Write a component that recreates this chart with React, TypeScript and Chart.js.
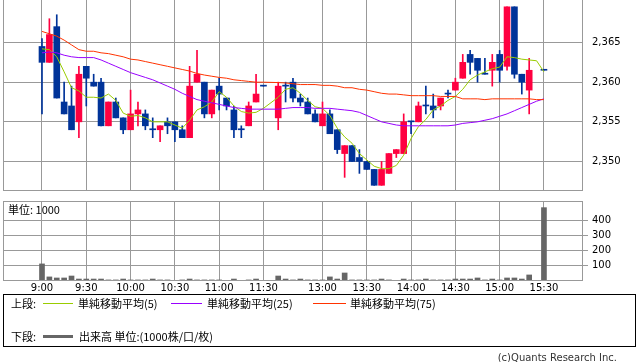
import React, { useEffect, useRef } from "react";
import { Chart, registerables } from "chart.js";

Chart.register(...registerables);

// ---- data ----
const candleTimes = [
  "9:00", "9:05", "9:10", "9:15", "9:20", "9:25", "9:30", "9:35", "9:40", "9:45", "9:50", "9:55",
  "10:00", "10:05", "10:10", "10:15", "10:20", "10:25", "10:30", "10:35", "10:40", "10:45", "10:50", "10:55",
  "11:00", "11:05", "11:10", "11:15", "11:20", "11:25", "11:30",
  "12:30", "12:35", "12:40", "12:45", "12:50", "12:55",
  "13:00", "13:05", "13:10", "13:15", "13:20", "13:25", "13:30", "13:35", "13:40", "13:45", "13:50", "13:55",
  "14:00", "14:05", "14:10", "14:15", "14:20", "14:25", "14:30", "14:35", "14:40", "14:45", "14:50", "14:55",
  "15:00", "15:05", "15:10", "15:15", "15:20",
  "15:30",
];

const opens = [
  2364.5, 2362.5, 2367, 2357.5, 2357, 2355, 2362, 2360, 2360, 2354.5, 2357.5, 2355.5,
  2354, 2356, 2356, 2354, 2354, 2355, 2355, 2354, 2353, 2360, 2360, 2356,
  2359.5, 2358, 2356.5, 2354, 2354.5, 2357.5, 2359.5,
  2355.5, 2359.5, 2360, 2358, 2357.5, 2356,
  2354.5, 2356, 2354, 2351, 2352, 2350.5, 2350, 2349, 2347, 2348.5, 2351, 2351,
  2355, 2355, 2357, 2357, 2357, 2358.5, 2359, 2360.5, 2363.5, 2363, 2361, 2361.5,
  2363.5, 2362, 2369.5, 2361, 2359,
  2361.5,
];
const highs = [
  2365.5, 2368, 2368.5, 2360, 2359.5, 2362, 2362, 2361, 2360.5, 2357.5, 2358, 2355.5,
  2359, 2357.5, 2356.5, 2355.5, 2354.5, 2355.5, 2355, 2354.5, 2362, 2364, 2360, 2359,
  2360.5, 2358, 2357, 2354.5, 2357.5, 2361, 2359.5,
  2360, 2360, 2360.5, 2358.5, 2358, 2356.5,
  2357.5, 2356.5, 2354, 2352, 2352, 2351.5, 2350, 2349, 2350, 2351, 2351.5, 2356,
  2355, 2357.5, 2359.5, 2358.5, 2358, 2359, 2360.5, 2363.5, 2364, 2363, 2363, 2363.5,
  2364, 2369.5, 2369.5, 2361, 2363,
  2361.5,
];
const lows = [
  2356, 2362.5, 2358, 2356, 2354, 2353, 2357, 2359.5, 2354.5, 2354.5, 2355.5, 2353.5,
  2354, 2354.5, 2354, 2353, 2352.5, 2353.5, 2352.5, 2353, 2353, 2360, 2355.5, 2355.5,
  2356.5, 2356.5, 2353, 2353, 2354.5, 2357.5, 2359.5,
  2354, 2357.5, 2357.5, 2357, 2356, 2355,
  2354.5, 2353.5, 2351, 2348, 2350, 2348.5, 2349, 2347, 2347, 2348.5, 2350.5, 2351,
  2353.5, 2355, 2356, 2355.5, 2356.5, 2358, 2359, 2360.5, 2361, 2360, 2361, 2359.5,
  2360, 2361.5, 2360.5, 2358.5, 2356,
  2361.5,
];
const closes = [
  2362.5, 2366, 2358, 2356, 2354, 2361, 2360.5, 2359.5, 2354.5, 2357.5, 2355.5, 2354,
  2356, 2356.5, 2354.5, 2354, 2354.5, 2354.5, 2354, 2353, 2359.5, 2361, 2356, 2359,
  2358.5, 2357, 2354, 2354, 2357, 2358.5, 2359.5,
  2359.5, 2359.5, 2358, 2357.5, 2356, 2355,
  2356, 2353.5, 2351.5, 2352, 2350, 2350, 2349, 2347, 2349, 2351, 2351.5, 2355,
  2355, 2357, 2357, 2356.5, 2358, 2358.5, 2360, 2362.5, 2362.5, 2361.5, 2361, 2362.5,
  2361.5, 2369.5, 2361, 2360, 2361.5,
  2361.5,
];
const volumes = [
  113, 27, 20, 20, 33, 13, 13, 13, 13, 7, 7, 13,
  7, 7, 7, 13, 7, 7, 3, 7, 13, 7, 7, 7,
  7, 3, 13, 2, 7, 13, 2,
  33, 13, 7, 13, 7, 7,
  7, 27, 13, 53, 7, 7, 7, 7, 13, 7, 2, 13,
  7, 7, 13, 7, 7, 7, 13, 13, 13, 20, 7, 13,
  7, 20, 20, 13, 40,
  485,
];

const maTimes = [
  "9:00", "9:05", "9:10", "9:15", "9:20", "9:25", "9:30", "9:35", "9:40", "9:45", "9:50", "9:55",
  "10:00", "10:05", "10:10", "10:15", "10:20", "10:25", "10:30", "10:35", "10:40", "10:45", "10:50", "10:55",
  "11:00", "11:05", "11:10", "11:15", "11:20", "11:25", "11:30",
  "12:30", "12:35", "12:40", "12:45", "12:50", "12:55",
  "13:00", "13:05", "13:10", "13:15", "13:20", "13:25", "13:30", "13:35", "13:40", "13:45", "13:50", "13:55",
  "14:00", "14:05", "14:10", "14:15", "14:20", "14:25", "14:30", "14:35", "14:40", "14:45", "14:50", "14:55",
  "15:00", "15:05", "15:10", "15:15", "15:20", "15:25", "15:30",
];
const ma5 = [
  2364.2, 2364.1, 2363.2, 2361.3, 2359.3, 2358.9, 2358.1, 2358.1, 2358.0, 2358.5, 2357.7, 2356.1,
  2355.7, 2355.8, 2355.5, 2355.0, 2355.0, 2355.0, 2354.6, 2354.2, 2355.2, 2356.5, 2356.9, 2357.5,
  2358.8, 2358.1, 2357.0, 2356.3, 2356.1, 2356.2, 2356.7,
  2358.1, 2359.1, 2359.3, 2358.6, 2357.7, 2356.9,
  2356.7, 2355.8, 2354.2, 2353.1, 2352.3, 2351.0, 2350.2, 2349.4, 2349.1, 2349.1, 2349.5, 2350.8,
  2352.9, 2354.4, 2355.3, 2356.5, 2357.0, 2357.7, 2358.2, 2359.1, 2360.3, 2360.9, 2361.3, 2361.7,
  2361.9, 2363.2, 2363.1, 2362.9, 2362.8, 2362.7, 2361.3,
];
const ma25 = [
  2363.7, 2363.8, 2363.7, 2363.4, 2363.2, 2363.1, 2363.1, 2363.1, 2362.8, 2362.4, 2362.0, 2361.6,
  2361.2, 2360.9, 2360.6, 2360.3, 2359.9, 2359.5, 2359.1, 2358.6, 2358.2, 2357.8, 2357.6, 2357.4,
  2357.2, 2357.0, 2356.8, 2356.7, 2356.6, 2356.6, 2356.6,
  2356.6, 2356.7, 2356.8, 2356.8, 2356.8, 2356.7,
  2356.7, 2356.7, 2356.6, 2356.5, 2356.4, 2356.2, 2355.8, 2355.4, 2355.0, 2354.8, 2354.6, 2354.5,
  2354.5, 2354.5, 2354.5, 2354.5, 2354.5, 2354.5, 2354.6, 2354.8, 2354.9, 2355.0, 2355.2, 2355.4,
  2355.7, 2356.0, 2356.4, 2356.8, 2357.2, 2357.6, 2357.9,
];
const ma75 = [
  2366.4, 2366.1, 2365.8, 2365.3, 2364.7, 2364.1, 2363.9, 2363.9, 2363.7, 2363.6, 2363.4, 2363.2,
  2362.9, 2362.8, 2362.6, 2362.4, 2362.2, 2362.0, 2361.8, 2361.6, 2361.4, 2361.1, 2360.9, 2360.75,
  2360.6, 2360.5, 2360.3, 2360.2, 2360.1, 2360.0, 2360.0,
  2359.95, 2359.9, 2359.8, 2359.7, 2359.7, 2359.7,
  2359.6, 2359.6, 2359.5, 2359.3, 2359.3, 2359.1, 2359.0, 2358.8, 2358.6, 2358.5, 2358.5, 2358.4,
  2358.3, 2358.3, 2358.3, 2358.3, 2358.2, 2358.2, 2358.2, 2357.9, 2357.9, 2357.9, 2357.8, 2357.9,
  2357.9, 2357.9, 2357.9, 2357.9, 2357.9, 2357.8, 2357.8,
];

const xTickTimes = ["9:00", "9:30", "10:00", "10:30", "11:00", "11:30", "13:00", "13:30", "14:00", "14:30", "15:00", "15:30"];
const priceTicks = [2350, 2355, 2360, 2365];
const volumeTicks = [100, 200, 300, 400];

// ---- styles ----
const UP = "#ff0040";
const DOWN = "#003399";
const MA5_COLOR = "#99cc00";
const MA25_COLOR = "#9900ff";
const MA75_COLOR = "#ff3300";
const VOL_COLOR = "#666666";
const GRID = "#999999";
const TICK_FONT = { family: "'DejaVu Sans', sans-serif", size: 10 };
const CJK = "'Noto Sans CJK JP', 'Noto Sans', sans-serif";

const X_MIN = -5.283;
const X_MAX = 73.29;

// session-aware position of a 5-minute bar (lunch break collapsed)
function toSlot(t: string): number {
  const [h, m] = t.split(":").map(Number);
  const mins = h * 60 + m;
  if (mins <= 11 * 60 + 30) return (mins - 9 * 60) / 5;
  return 32 + (mins - (12 * 60 + 30)) / 5;
}

const framePlugin = {
  id: "frame",
  afterDatasetsDraw(chart: any) {
    const { ctx, chartArea: a } = chart;
    ctx.save();
    ctx.strokeStyle = GRID;
    ctx.lineWidth = 1;
    ctx.strokeRect(a.left + 0.5, a.top + 0.5, a.right - a.left - 1, a.bottom - a.top - 1);
    ctx.restore();
  },
};

function xScale(showLabels: boolean, height: number) {
  return {
    type: "linear",
    min: X_MIN,
    max: X_MAX,
    bounds: "data",
    offset: false,
    grid: { color: GRID, drawTicks: false, offset: false, lineWidth: 1 },
    border: { display: false },
    ticks: {
      display: showLabels,
      autoSkip: false,
      maxRotation: 0,
      padding: 1,
      color: "#000",
      font: TICK_FONT,
      callback: (_v: any, i: number) => xTickTimes[i] ?? "",
    },
    afterBuildTicks: (s: any) => {
      s.ticks = xTickTimes.map((t) => ({ value: toSlot(t) }));
    },
    afterFit: (s: any) => {
      s.height = height;
      s.paddingLeft = 0;
      s.paddingRight = 0;
    },
  };
}

export default function App() {
  const priceRef = useRef<HTMLCanvasElement>(null);
  const volRef = useRef<HTMLCanvasElement>(null);

  useEffect(() => {
    const colors = candleTimes.map((_, i) => (closes[i] > opens[i] ? UP : DOWN));
    const line = (label: string, vals: number[], color: string) => ({
      type: "line",
      label,
      data: maTimes.map((t, i) => ({ x: toSlot(t), y: vals[i] })),
      borderColor: color,
      borderWidth: 1,
      pointRadius: 0,
      tension: 0,
      fill: false,
      order: 0,
    });

    const price = new Chart(priceRef.current as HTMLCanvasElement, {
      type: "bar",
      data: {
        datasets: [
          line("MA75", ma75, MA75_COLOR),
          line("MA25", ma25, MA25_COLOR),
          line("MA5", ma5, MA5_COLOR),
          {
            type: "bar",
            label: "body",
            data: candleTimes.map((t, i) => ({ x: toSlot(t), y: [opens[i], closes[i]] })),
            backgroundColor: colors,
            barThickness: 6,
            minBarLength: 1,
            grouped: false,
            borderWidth: 0,
            order: 1,
          },
          {
            type: "bar",
            label: "wick",
            data: candleTimes.map((t, i) => ({ x: toSlot(t), y: [lows[i], highs[i]] })),
            backgroundColor: colors,
            barThickness: 1,
            grouped: false,
            borderWidth: 0,
            order: 2,
          },
        ] as any,
      },
      options: {
        animation: false,
        responsive: false,
        devicePixelRatio: 1,
        events: [],
        layout: { padding: { left: 3, top: 0, right: 0, bottom: 0 } },
        plugins: { legend: { display: false }, tooltip: { enabled: false } },
        scales: {
          x: xScale(false, 0),
          y: {
            type: "linear",
            position: "right",
            min: 2346.28,
            max: 2370.99,
            bounds: "data",
            grid: { color: GRID, drawTicks: false },
            border: { display: false },
            ticks: {
              padding: 9,
              color: "#000",
              font: TICK_FONT,
              callback: (v: any) => Number(v).toLocaleString("en-US"),
            },
            afterBuildTicks: (s: any) => {
              s.ticks = priceTicks.map((v) => ({ value: v }));
            },
            afterFit: (s: any) => {
              s.width = 55;
              s.paddingTop = 0;
              s.paddingBottom = 0;
            },
          },
        } as any,
      },
      plugins: [framePlugin],
    } as any);

    const vol = new Chart(volRef.current as HTMLCanvasElement, {
      type: "bar",
      data: {
        datasets: [
          {
            label: "volume",
            data: candleTimes.map((t, i) => ({ x: toSlot(t), y: volumes[i] })),
            backgroundColor: VOL_COLOR,
            barThickness: 5,
            grouped: false,
            borderWidth: 0,
          },
        ] as any,
      },
      options: {
        animation: false,
        responsive: false,
        devicePixelRatio: 1,
        events: [],
        layout: { padding: { left: 3, top: 6, right: 0, bottom: 0 } },
        plugins: { legend: { display: false }, tooltip: { enabled: false } },
        scales: {
          x: xScale(true, 14),
          y: {
            type: "linear",
            position: "right",
            min: 0,
            max: 529,
            bounds: "data",
            grid: { color: GRID, drawTicks: true, tickLength: 5 },
            border: { display: false },
            ticks: { padding: 4, color: "#000", font: TICK_FONT },
            afterBuildTicks: (s: any) => {
              s.ticks = volumeTicks.map((v) => ({ value: v }));
            },
            afterFit: (s: any) => {
              s.width = 55;
              s.paddingTop = 0;
              s.paddingBottom = 0;
            },
          },
        } as any,
      },
      plugins: [framePlugin],
    } as any);

    return () => {
      price.destroy();
      vol.destroy();
    };
  }, []);

  const text = (s: string, left: number, top: number, extra: React.CSSProperties = {}) => (
    <div
      style={{
        position: "absolute",
        left,
        top,
        fontFamily: CJK,
        fontSize: 11,
        lineHeight: "14px",
        color: "#000",
        whiteSpace: "nowrap",
        ...extra,
      }}
    >
      {s}
    </div>
  );
  const swatch = (color: string, left: number, top: number, width: number, height: number) => (
    <div style={{ position: "absolute", left, top, width, height, background: color }} />
  );

  return (
    <div
      style={{
        position: "absolute",
        left: 0,
        top: 0,
        width: 638,
        height: 362,
        overflow: "hidden",
        background: "#fff",
      }}
    >
      <canvas
        ref={priceRef}
        width={638}
        height={196}
        style={{ position: "absolute", left: 0, top: -5, width: 638, height: 196 }}
      />
      <canvas
        ref={volRef}
        width={638}
        height={100}
        style={{ position: "absolute", left: 0, top: 195, width: 638, height: 100 }}
      />
      {text("単位: 1000", 8, 202)}
      <div
        style={{
          position: "absolute",
          left: 3,
          top: 294,
          width: 633,
          height: 53,
          border: "1px solid #000",
          boxSizing: "border-box",
        }}
      />
      {text("上段:", 11, 296)}
      {swatch(MA5_COLOR, 43, 303, 30, 1)}
      {text("単純移動平均(5)", 78, 296)}
      {swatch(MA25_COLOR, 171, 303, 31, 1)}
      {text("単純移動平均(25)", 207, 296)}
      {swatch(MA75_COLOR, 313, 303, 33, 1)}
      {text("単純移動平均(75)", 350, 296)}
      {text("下段:", 11, 329)}
      {swatch(VOL_COLOR, 43, 335, 30, 3)}
      {text("出来高 単位:(1000株/口/枚)", 79, 329)}
      <div
        style={{
          position: "absolute",
          right: 21,
          top: 352,
          fontFamily: "'DejaVu Sans', sans-serif",
          fontSize: 10,
          lineHeight: "12px",
          color: "#333",
          whiteSpace: "nowrap",
        }}
      >
        (c)Quants Research Inc.
      </div>
    </div>
  );
}
